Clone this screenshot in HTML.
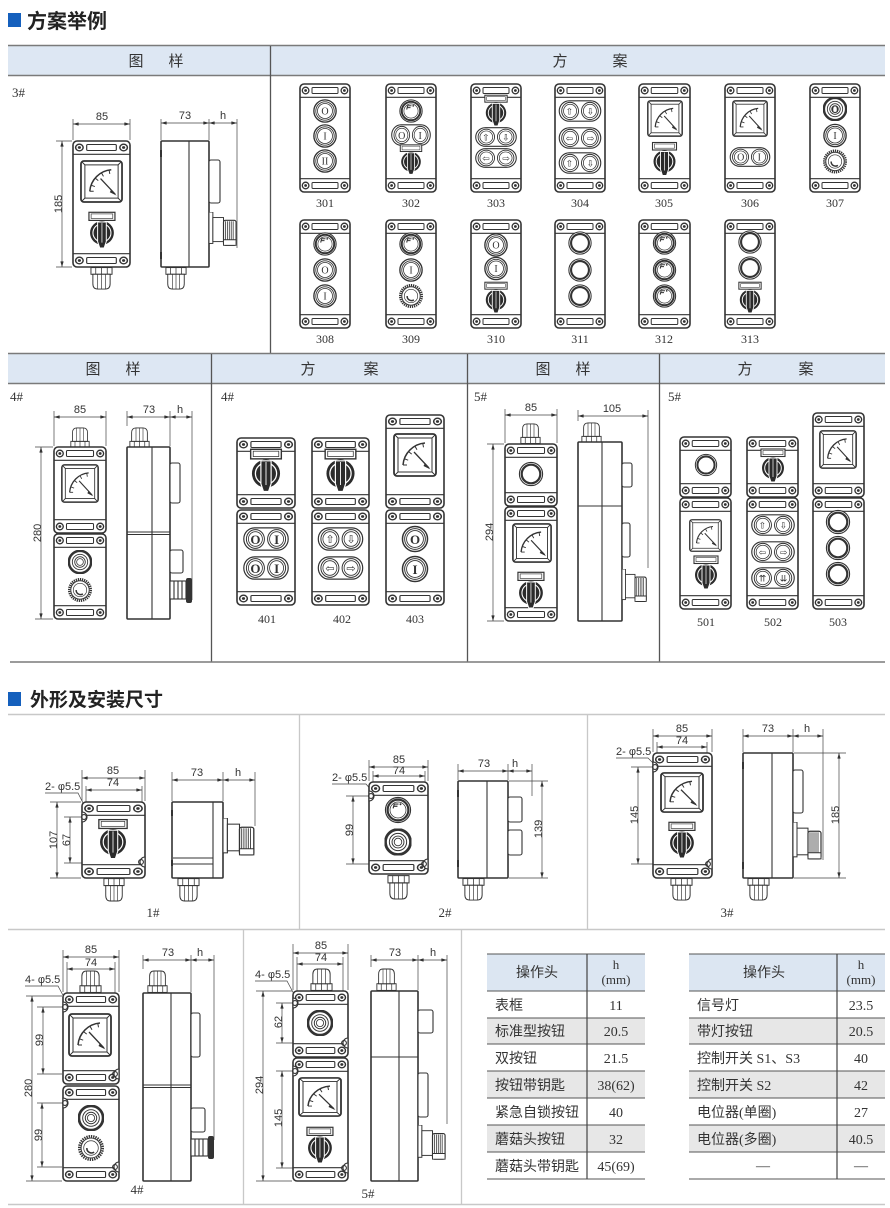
<!DOCTYPE html>
<html><head><meta charset="utf-8">
<style>
html,body{margin:0;padding:0;background:#fff;}
svg{display:block;}
.f{fill:#fff;stroke:#333;stroke-width:1.6}
.l{fill:none;stroke:#333;stroke-width:1.1}
.w{fill:#fff;stroke:#333;stroke-width:1.1}
.dm{fill:none;stroke:#444;stroke-width:0.7}
.da{fill:none;stroke:#444;stroke-width:0.7;marker-start:url(#ar);marker-end:url(#ar)}
.ds{font-family:"Liberation Sans",sans-serif;font-size:11px;fill:#333;text-anchor:middle}
.sr{font-family:"Liberation Serif",serif;fill:#333;text-anchor:middle}
.bt{font-family:"Liberation Serif",serif;fill:#333;text-anchor:middle;font-size:10px}
.ab{font-family:"DejaVu Sans",sans-serif;fill:#333;text-anchor:middle;font-size:9px}
.cj{font-family:"Liberation Sans","Noto Sans CJK SC",sans-serif;fill:#333}
.hd{font-family:"Liberation Sans","Noto Sans CJK SC",sans-serif;fill:#333;font-size:15px;text-anchor:middle}
.tb{font-family:"Liberation Serif","Noto Sans CJK SC",sans-serif;fill:#333;font-size:14px}
</style></head><body>
<svg width="890" height="1208" viewBox="0 0 890 1208" xmlns="http://www.w3.org/2000/svg">
<defs>
<marker id="ar" viewBox="0 0 10 6" refX="10" refY="3" markerWidth="6" markerHeight="3.4" markerUnits="userSpaceOnUse" orient="auto-start-reverse"><path d="M0 0L10 3L0 6z" fill="#333"/></marker>
<symbol id="bT" viewBox="0 0 50 14" preserveAspectRatio="none">
<circle cx="5.6" cy="6.5" r="3.3" fill="#fff" stroke="#333" stroke-width="1.3"/><circle cx="5.6" cy="6.5" r="1.4" fill="#333"/>
<circle cx="44.4" cy="6.5" r="3.3" fill="#fff" stroke="#333" stroke-width="1.3"/><circle cx="44.4" cy="6.5" r="1.4" fill="#333"/>
<rect x="12" y="3.5" width="26" height="6" rx="1" fill="#fff" stroke="#333" stroke-width="1"/>
<line x1="0" y1="13.3" x2="50" y2="13.3" stroke="#333" stroke-width="1.1"/>
</symbol>
<symbol id="bB" viewBox="0 0 50 14" preserveAspectRatio="none">
<line x1="0" y1="0.7" x2="50" y2="0.7" stroke="#333" stroke-width="1.1"/>
<circle cx="5.6" cy="7.5" r="3.3" fill="#fff" stroke="#333" stroke-width="1.3"/><circle cx="5.6" cy="7.5" r="1.4" fill="#333"/>
<circle cx="44.4" cy="7.5" r="3.3" fill="#fff" stroke="#333" stroke-width="1.3"/><circle cx="44.4" cy="7.5" r="1.4" fill="#333"/>
<rect x="12" y="4.5" width="26" height="6" rx="1" fill="#fff" stroke="#333" stroke-width="1"/>
</symbol>
<symbol id="btn" viewBox="-12.5 -12.5 25 25">
<circle r="11.6" fill="#fff" stroke="#333" stroke-width="1.4"/>
<circle r="9.6" fill="none" stroke="#333" stroke-width="0.9"/>
<circle r="7.8" fill="none" stroke="#333" stroke-width="0.8"/>
</symbol>
<symbol id="pbtn" viewBox="-12.5 -12.5 25 25">
<circle r="11.6" fill="#fff" stroke="#333" stroke-width="1.1"/>
<circle r="9.6" fill="none" stroke="#333" stroke-width="2"/>
<circle r="7.4" fill="none" stroke="#333" stroke-width="0.7"/>
<path d="M-4.5 -1.5L-3.5 -5.5H0.5M-4 -3.5H-0.5" stroke="#333" stroke-width="1.1" fill="none"/>
<circle cx="2.3" cy="-5.3" r="0.9" fill="#333"/>
</symbol>
<symbol id="ring" viewBox="-12.5 -12.5 25 25">
<circle r="11.6" fill="#fff" stroke="#333" stroke-width="1.1"/>
<circle r="9.3" fill="none" stroke="#333" stroke-width="2.2"/>
</symbol>
<symbol id="ring2" viewBox="-12.5 -12.5 25 25">
<circle r="11.6" fill="#fff" stroke="#333" stroke-width="2.6"/>
<circle r="8" fill="none" stroke="#333" stroke-width="0.9"/>
<circle r="5.5" fill="none" stroke="#333" stroke-width="0.9"/>
<circle r="3.5" fill="none" stroke="#333" stroke-width="0.8"/>
</symbol>
<symbol id="dbtn" viewBox="-23 -11.5 46 23" preserveAspectRatio="none">
<rect x="-22.2" y="-10.7" width="44.4" height="21.4" rx="10.7" fill="#fff" stroke="#333" stroke-width="1.2"/>
<circle cx="-10.6" r="9" fill="none" stroke="#333" stroke-width="1"/>
<circle cx="-10.6" r="7" fill="none" stroke="#333" stroke-width="0.8"/>
<circle cx="10.6" r="9" fill="none" stroke="#333" stroke-width="1"/>
<circle cx="10.6" r="7" fill="none" stroke="#333" stroke-width="0.8"/>
</symbol>
<symbol id="sel" viewBox="-14 -20 28 36">
<rect x="-12" y="-19" width="24" height="7.5" fill="#fff" stroke="#333" stroke-width="1.1"/>
<rect x="-10" y="-17.5" width="20" height="4.2" fill="none" stroke="#333" stroke-width="0.6"/>
<circle r="11" fill="#2b2b2b"/>
<circle r="8.3" fill="none" stroke="#fff" stroke-width="1"/>
<path d="M-4 -10H4V8L2 14H-2L-4 8Z" fill="#2b2b2b" stroke="#fff" stroke-width="0.9"/>
<line x1="0" y1="-9" x2="0" y2="9" stroke="#fff" stroke-width="0.7"/>
</symbol>
<symbol id="meter" viewBox="0 0 44 44" preserveAspectRatio="none">
<rect x="1" y="1" width="42" height="42" rx="3" fill="#fff" stroke="#333" stroke-width="1.8"/>
<rect x="5" y="5" width="34" height="34" fill="none" stroke="#333" stroke-width="1"/>
<path d="M1.8 1.8L5 5M42.2 1.8L39 5M1.8 42.2L5 39M42.2 42.2L39 39" stroke="#333" stroke-width="1"/>
<path d="M10 32A24 24 0 0 1 32 10" fill="none" stroke="#333" stroke-width="1.5"/>
<path d="M11.4 25.8L15.2 27.2M15.6 18.6L18.7 21.1M22 13.2L24 16.7M29.8 10.4L30.5 14.3M10 32L14 32" stroke="#333" stroke-width="1"/>
<path d="M21 19L36 35" stroke="#333" stroke-width="1.3"/>
<path d="M32 30L37.5 36.5L30.5 33Z" fill="#333"/>
</symbol>
<symbol id="mush" viewBox="-12.5 -12.5 25 25">
<circle r="11.3" fill="#fff" stroke="#333" stroke-width="2.4" stroke-dasharray="1.3 0.9"/>
<circle r="9.6" fill="none" stroke="#333" stroke-width="1"/>
<circle r="7" fill="none" stroke="#333" stroke-width="0.7"/>
<path d="M-4 0A4.5 4.5 0 0 0 3 4" stroke="#333" stroke-width="1.5" fill="none"/>
</symbol>
<symbol id="gland" viewBox="0 0 24 24" preserveAspectRatio="none">
<rect x="1" y="0.6" width="22" height="7" fill="#fff" stroke="#333" stroke-width="1"/>
<path d="M6 0.6v7M12 0.6v7M18 0.6v7" stroke="#333" stroke-width="0.8"/>
<path d="M3 7.6H21V17.5Q21 23 16 23H8Q3 23 3 17.5Z" fill="#fff" stroke="#333" stroke-width="1"/>
<path d="M8 7.6V23M12 7.6V23M16 7.6V23" stroke="#333" stroke-width="0.7"/>
</symbol>
<symbol id="glandU" viewBox="0 0 24 24" preserveAspectRatio="none">
<g transform="matrix(1 0 0 -1 0 24)">
<rect x="1" y="0.6" width="22" height="7" fill="#fff" stroke="#333" stroke-width="1"/>
<path d="M6 0.6v7M12 0.6v7M18 0.6v7" stroke="#333" stroke-width="0.8"/>
<path d="M3 7.6H21V17.5Q21 23 16 23H8Q3 23 3 17.5Z" fill="#fff" stroke="#333" stroke-width="1"/>
<path d="M8 7.6V23M12 7.6V23M16 7.6V23" stroke="#333" stroke-width="0.7"/>
</g>
</symbol>
<symbol id="sside" viewBox="0 0 30 40" preserveAspectRatio="none">
<rect x="0" y="0" width="4" height="34" fill="#fff" stroke="#333" stroke-width="1"/>
<rect x="4" y="6" width="11" height="26" fill="#fff" stroke="#333" stroke-width="1"/>
<rect x="15" y="9" width="13" height="27" rx="2" fill="#fff" stroke="#333" stroke-width="1.2"/>
<path d="M17 10V35M19 10V35M21 10V35M23 10V35M25 10V35" stroke="#333" stroke-width="0.8"/>
<path d="M15 30H28V36H15Z" fill="#fff" stroke="#333" stroke-width="1"/>
</symbol>
</defs>

<!-- ===== Title 1 ===== -->
<rect x="8" y="13" width="13" height="14" fill="#1560bd"/>
<text x="27" y="28" class="cj" style="font-size:20px;font-weight:bold;fill:#222">方案举例</text>

<!-- header band 1 -->
<rect x="8" y="46" width="877" height="29" fill="#dde7f3"/>
<line x1="8" y1="45.5" x2="885" y2="45.5" stroke="#7a7a7a" stroke-width="1.6"/>
<line x1="8" y1="75.5" x2="885" y2="75.5" stroke="#7a7a7a" stroke-width="1.6"/>
<line x1="270.5" y1="46" x2="270.5" y2="353" stroke="#555" stroke-width="1.3"/>
<text x="136" y="66" class="hd">图</text><text x="176" y="66" class="hd">样</text>
<text x="560" y="66" class="hd">方</text><text x="620" y="66" class="hd">案</text>

<text x="12" y="97" class="sr" style="font-size:13px;text-anchor:start">3#</text>

<!-- 3# front -->
<path class="dm" d="M73 119V140M130 119V140M56 141H72M56 267H72"/>
<line class="da" x1="73" y1="124" x2="130" y2="124"/>
<text x="102" y="120" class="ds">85</text>
<line class="da" x1="62" y1="141" x2="62" y2="267"/>
<text class="ds" transform="translate(62,204) rotate(-90)">185</text>
<rect class="f" x="73" y="141" width="57" height="126" rx="4"/>
<use href="#bT" x="73" y="141" width="57" height="14"/>
<use href="#bB" x="73" y="253" width="57" height="14"/>
<use href="#meter" x="80" y="160" width="43" height="43"/>
<use href="#sel" x="86.7" y="211.2" width="30.5" height="39"/>
<use href="#gland" x="90" y="267" width="23" height="23"/>
<!-- 3# side -->
<path class="dm" d="M161 119V140M209 119V140M237 119V248"/>
<line class="da" x1="161" y1="123" x2="209" y2="123"/>
<line class="da" x1="209" y1="123" x2="237" y2="123"/>
<text x="185" y="119" class="ds">73</text><text x="223" y="119" class="ds">h</text>
<rect class="f" x="161" y="141" width="48" height="126" rx="1"/>
<line class="l" x1="189" y1="141" x2="189" y2="267"/>
<rect x="160" y="150" width="2" height="7" fill="#333"/><rect x="160" y="252" width="2" height="7" fill="#333"/>
<rect class="w" x="209" y="160" width="11" height="43" rx="2"/>
<use href="#sside" x="209" y="212" width="29" height="37"/>
<use href="#gland" x="165" y="267" width="22" height="23"/>

<!-- scheme row 1 -->
<g>
<rect class="f" x="300" y="84" width="50" height="108" rx="4"/><use href="#bT" x="300" y="84" width="50" height="14"/><use href="#bB" x="300" y="178" width="50" height="14"/>
<use href="#btn" x="313" y="99" width="24" height="24"/><text x="325" y="114.5" class="bt">O</text>
<use href="#btn" x="313" y="124" width="24" height="24"/><text x="325" y="139.5" class="bt">I</text>
<use href="#btn" x="313" y="149" width="24" height="24"/><text x="325" y="164.5" class="bt">II</text>

<rect class="f" x="386" y="84" width="50" height="108" rx="4"/><use href="#bT" x="386" y="84" width="50" height="14"/><use href="#bB" x="386" y="178" width="50" height="14"/>
<use href="#pbtn" x="399" y="99" width="24" height="24"/>
<use href="#dbtn" x="391" y="124" width="40" height="22"/><text x="401.8" y="139" class="bt">O</text><text x="420.2" y="139" class="bt">I</text>
<use href="#sel" x="398.5" y="143" width="25" height="34"/>

<rect class="f" x="471" y="84" width="50" height="108" rx="4"/><use href="#bT" x="471" y="84" width="50" height="14"/><use href="#bB" x="471" y="178" width="50" height="14"/>
<use href="#sel" x="483" y="94" width="26" height="34"/>
<use href="#dbtn" x="475" y="127" width="42" height="20"/><text x="486" y="140.5" class="ab">⇧</text><text x="506" y="140.5" class="ab">⇩</text>
<use href="#dbtn" x="475" y="148" width="42" height="20"/><text x="486" y="161.5" class="ab">⇦</text><text x="506" y="161.5" class="ab">⇨</text>

<rect class="f" x="555" y="84" width="50" height="108" rx="4"/><use href="#bT" x="555" y="84" width="50" height="14"/><use href="#bB" x="555" y="178" width="50" height="14"/>
<use href="#dbtn" x="558.5" y="100" width="43" height="22"/><text x="569.5" y="114.5" class="ab">⇧</text><text x="590.5" y="114.5" class="ab">⇩</text>
<use href="#dbtn" x="558.5" y="127" width="43" height="22"/><text x="569.5" y="141.5" class="ab">⇦</text><text x="590.5" y="141.5" class="ab">⇨</text>
<use href="#dbtn" x="558.5" y="152" width="43" height="22"/><text x="569.5" y="166.5" class="ab">⇧</text><text x="590.5" y="166.5" class="ab">⇩</text>

<rect class="f" x="639" y="84" width="51" height="108" rx="4"/><use href="#bT" x="639" y="84" width="51" height="14"/><use href="#bB" x="639" y="178" width="51" height="14"/>
<use href="#meter" x="647" y="100" width="36" height="37"/>
<use href="#sel" x="650.5" y="141" width="28" height="37"/>

<rect class="f" x="725" y="84" width="50" height="108" rx="4"/><use href="#bT" x="725" y="84" width="50" height="14"/><use href="#bB" x="725" y="178" width="50" height="14"/>
<use href="#meter" x="732" y="100" width="36" height="37"/>
<use href="#dbtn" x="729.5" y="147" width="41" height="20"/><text x="740.7" y="160.5" class="bt">O</text><text x="759.3" y="160.5" class="bt">I</text>

<rect class="f" x="810" y="84" width="50" height="108" rx="4"/><use href="#bT" x="810" y="84" width="50" height="14"/><use href="#bB" x="810" y="178" width="50" height="14"/>
<use href="#ring2" x="823" y="97" width="24" height="24"/><text x="835" y="113" class="bt" style="font-weight:bold">O</text>
<use href="#btn" x="823" y="123.5" width="24" height="24"/><text x="835" y="139" class="bt">I</text>
<use href="#mush" x="823" y="149.5" width="24" height="24"/>
</g>
<g class="sr" style="font-size:12px">
<text x="325" y="207">301</text><text x="411" y="207">302</text><text x="496" y="207">303</text><text x="580" y="207">304</text><text x="664" y="207">305</text><text x="750" y="207">306</text><text x="835" y="207">307</text>
</g>

<!-- scheme row 2 -->
<g>
<rect class="f" x="300" y="220" width="50" height="108" rx="4"/><use href="#bT" x="300" y="220" width="50" height="14"/><use href="#bB" x="300" y="314" width="50" height="14"/>
<use href="#pbtn" x="313" y="232" width="24" height="24"/>
<use href="#btn" x="313" y="258" width="24" height="24"/><text x="325" y="273.5" class="bt">O</text>
<use href="#btn" x="313" y="284" width="24" height="24"/><text x="325" y="299.5" class="bt">I</text>

<rect class="f" x="386" y="220" width="50" height="108" rx="4"/><use href="#bT" x="386" y="220" width="50" height="14"/><use href="#bB" x="386" y="314" width="50" height="14"/>
<use href="#pbtn" x="399" y="232" width="24" height="24"/>
<use href="#btn" x="399" y="258" width="24" height="24"/><text x="411" y="273.5" class="bt">I</text>
<use href="#mush" x="399" y="284" width="24" height="24"/>

<rect class="f" x="471" y="220" width="50" height="108" rx="4"/><use href="#bT" x="471" y="220" width="50" height="14"/><use href="#bB" x="471" y="314" width="50" height="14"/>
<use href="#btn" x="484" y="233" width="24" height="24"/><text x="496" y="248.5" class="bt">O</text>
<use href="#btn" x="484" y="256.5" width="24" height="24"/><text x="496" y="272" class="bt">I</text>
<use href="#sel" x="483" y="281" width="26" height="34"/>

<rect class="f" x="555" y="220" width="50" height="108" rx="4"/><use href="#bT" x="555" y="220" width="50" height="14"/><use href="#bB" x="555" y="314" width="50" height="14"/>
<use href="#ring" x="568" y="231" width="24" height="24"/>
<use href="#ring" x="568" y="258" width="24" height="24"/>
<use href="#ring" x="568" y="284" width="24" height="24"/>

<rect class="f" x="639" y="220" width="51" height="108" rx="4"/><use href="#bT" x="639" y="220" width="51" height="14"/><use href="#bB" x="639" y="314" width="51" height="14"/>
<use href="#pbtn" x="652.5" y="231" width="24" height="24"/>
<use href="#pbtn" x="652.5" y="258" width="24" height="24"/>
<use href="#pbtn" x="652.5" y="284" width="24" height="24"/>

<rect class="f" x="725" y="220" width="50" height="108" rx="4"/><use href="#bT" x="725" y="220" width="50" height="14"/><use href="#bB" x="725" y="314" width="50" height="14"/>
<use href="#ring" x="738" y="230" width="24" height="24"/>
<use href="#ring" x="738" y="256" width="24" height="24"/>
<use href="#sel" x="737" y="281" width="26" height="34"/>
</g>
<g class="sr" style="font-size:12px">
<text x="325" y="343">308</text><text x="411" y="343">309</text><text x="496" y="343">310</text><text x="580" y="343">311</text><text x="664" y="343">312</text><text x="750" y="343">313</text>
</g>

<!-- header band 2 -->
<rect x="8" y="354" width="877" height="29" fill="#dde7f3"/>
<line x1="8" y1="353.5" x2="885" y2="353.5" stroke="#7a7a7a" stroke-width="1.6"/>
<line x1="8" y1="383.5" x2="885" y2="383.5" stroke="#7a7a7a" stroke-width="1.6"/>
<line x1="211.5" y1="354" x2="211.5" y2="662" stroke="#555" stroke-width="1.3"/>
<line x1="467.5" y1="354" x2="467.5" y2="662" stroke="#555" stroke-width="1.3"/>
<line x1="659.5" y1="354" x2="659.5" y2="662" stroke="#555" stroke-width="1.3"/>
<line x1="10" y1="662" x2="885" y2="662" stroke="#7a7a7a" stroke-width="1.6"/>
<text x="93" y="374" class="hd">图</text><text x="133" y="374" class="hd">样</text>
<text x="308" y="374" class="hd">方</text><text x="371" y="374" class="hd">案</text>
<text x="543" y="374" class="hd">图</text><text x="583" y="374" class="hd">样</text>
<text x="745" y="374" class="hd">方</text><text x="806" y="374" class="hd">案</text>

<g class="sr" style="font-size:13px;text-anchor:start">
<text x="10" y="401">4#</text><text x="221" y="401">4#</text><text x="474" y="401">5#</text><text x="668" y="401">5#</text>
</g>

<!-- 4# front -->
<path class="dm" d="M54 411V446M106 411V446M35 447H53M35 619H53"/>
<line class="da" x1="54" y1="417" x2="106" y2="417"/>
<text x="80" y="413" class="ds">85</text>
<line class="da" x1="41" y1="447" x2="41" y2="619"/>
<text class="ds" transform="translate(41,533) rotate(-90)">280</text>
<use href="#glandU" x="70" y="427" width="20" height="21"/>
<rect class="f" x="54" y="447" width="52" height="86" rx="4"/>
<use href="#bT" x="54" y="447" width="52" height="14"/><use href="#bB" x="54" y="519" width="52" height="14"/>
<use href="#meter" x="61" y="464" width="38" height="39"/>
<rect class="f" x="54" y="534" width="52" height="85" rx="4"/>
<use href="#bT" x="54" y="534" width="52" height="14"/><use href="#bB" x="54" y="605" width="52" height="14"/>
<use href="#ring2" x="68" y="550" width="24" height="24"/>
<use href="#mush" x="68" y="578" width="24" height="24"/>
<!-- 4# side -->
<path class="dm" d="M127 411V426M170 411V446M192 411V600"/>
<line class="da" x1="127" y1="417" x2="170" y2="417"/>
<line class="da" x1="170" y1="417" x2="192" y2="417"/>
<text x="149" y="413" class="ds">73</text><text x="180" y="413" class="ds">h</text>
<use href="#glandU" x="129" y="427" width="21" height="21"/>
<rect class="f" x="127" y="447" width="43" height="172" rx="1"/>
<line class="l" x1="152" y1="447" x2="152" y2="619"/>
<path class="l" d="M127 532H170M127 534.5H170"/>
<rect class="w" x="170" y="463" width="10" height="40" rx="2"/>
<rect class="w" x="170" y="550" width="13" height="23" rx="2"/>
<rect class="w" x="170" y="581" width="16" height="18"/>
<path class="l" d="M174 581V599M178 581V599M182 581V599"/>
<rect x="186" y="578" width="6" height="25" rx="2" fill="#333"/>

<!-- 4# schemes -->
<rect class="f" x="237" y="438" width="58" height="70" rx="4"/><use href="#bT" x="237" y="438" width="58" height="14"/><use href="#bB" x="237" y="494" width="58" height="14"/>
<use href="#sel" x="248" y="448" width="36" height="46"/>
<rect class="f" x="237" y="510" width="58" height="95" rx="4"/><use href="#bT" x="237" y="510" width="58" height="14"/><use href="#bB" x="237" y="591" width="58" height="14"/>
<use href="#dbtn" x="243" y="527" width="46" height="24"/><text x="255.4" y="544" class="sr" style="font-size:13px;font-weight:bold">O</text><text x="276.6" y="544" class="sr" style="font-size:13px;font-weight:bold">I</text>
<use href="#dbtn" x="243" y="556" width="46" height="24"/><text x="255.4" y="573" class="sr" style="font-size:13px;font-weight:bold">O</text><text x="276.6" y="573" class="sr" style="font-size:13px;font-weight:bold">I</text>

<rect class="f" x="312" y="438" width="57" height="70" rx="4"/><use href="#bT" x="312" y="438" width="57" height="14"/><use href="#bB" x="312" y="494" width="57" height="14"/>
<use href="#sel" x="322.5" y="448" width="36" height="46"/>
<rect class="f" x="312" y="510" width="57" height="95" rx="4"/><use href="#bT" x="312" y="510" width="57" height="14"/><use href="#bB" x="312" y="591" width="57" height="14"/>
<use href="#dbtn" x="317.5" y="527" width="46" height="24"/><text x="330" y="543" class="ab" style="font-size:11px">⇧</text><text x="351" y="543" class="ab" style="font-size:11px">⇩</text>
<use href="#dbtn" x="317.5" y="556" width="46" height="24"/><text x="330" y="572" class="ab" style="font-size:11px">⇦</text><text x="351" y="572" class="ab" style="font-size:11px">⇨</text>

<rect class="f" x="386" y="415" width="58" height="93" rx="4"/><use href="#bT" x="386" y="415" width="58" height="14"/><use href="#bB" x="386" y="494" width="58" height="14"/>
<use href="#meter" x="393" y="433" width="44" height="44"/>
<rect class="f" x="386" y="510" width="58" height="95" rx="4"/><use href="#bT" x="386" y="510" width="58" height="14"/><use href="#bB" x="386" y="591" width="58" height="14"/>
<use href="#btn" x="401.5" y="525.5" width="27" height="27"/><text x="415" y="544" class="sr" style="font-size:13px;font-weight:bold">O</text>
<use href="#btn" x="401.5" y="555.5" width="27" height="27"/><text x="415" y="574" class="sr" style="font-size:13px;font-weight:bold">I</text>
<g class="sr" style="font-size:12px"><text x="267" y="623">401</text><text x="342" y="623">402</text><text x="415" y="623">403</text></g>

<!-- 5# front -->
<path class="dm" d="M505 409V443M557 409V443M487 444H504M487 621H504"/>
<line class="da" x1="505" y1="415" x2="557" y2="415"/>
<text x="531" y="411" class="ds">85</text>
<line class="da" x1="493" y1="444" x2="493" y2="621"/>
<text class="ds" transform="translate(493,532) rotate(-90)">294</text>
<use href="#glandU" x="520" y="423" width="21" height="21"/>
<rect class="f" x="505" y="444" width="52" height="62" rx="4"/>
<use href="#bT" x="505" y="444" width="52" height="14"/><use href="#bB" x="505" y="492" width="52" height="14"/>
<use href="#ring" x="518.5" y="461.5" width="25" height="25"/>
<rect class="f" x="505" y="507" width="52" height="114" rx="4"/>
<use href="#bT" x="505" y="507" width="52" height="14"/><use href="#bB" x="505" y="607" width="52" height="14"/>
<use href="#meter" x="512" y="523" width="40" height="40"/>
<use href="#sel" x="515.7" y="571.2" width="30.5" height="39"/>
<!-- 5# side -->
<path class="dm" d="M578 410V421M648 410V568"/>
<line class="da" x1="578" y1="416" x2="648" y2="416"/>
<text x="612" y="412" class="ds">105</text>
<use href="#glandU" x="581" y="422" width="21" height="21"/>
<rect class="f" x="578" y="442" width="44" height="179" rx="1"/>
<line class="l" x1="602" y1="442" x2="602" y2="621"/>
<line class="l" x1="578" y1="506" x2="622" y2="506"/>
<rect class="w" x="622" y="463" width="10" height="24" rx="2"/>
<rect class="w" x="622" y="523" width="8" height="34" rx="2"/>
<use href="#sside" x="622" y="569" width="26" height="36"/>

<!-- 5# schemes -->
<rect class="f" x="680" y="437" width="51" height="60" rx="4"/><use href="#bT" x="680" y="437" width="51" height="14"/><use href="#bB" x="680" y="483" width="51" height="14"/>
<use href="#ring" x="694.5" y="453.5" width="23" height="23"/>
<rect class="f" x="680" y="498" width="51" height="111" rx="4"/><use href="#bT" x="680" y="498" width="51" height="14"/><use href="#bB" x="680" y="595" width="51" height="14"/>
<use href="#meter" x="689" y="519" width="33" height="33"/>
<use href="#sel" x="692" y="555" width="28" height="36"/>

<rect class="f" x="747" y="437" width="51" height="60" rx="4"/><use href="#bT" x="747" y="437" width="51" height="14"/><use href="#bB" x="747" y="483" width="51" height="14"/>
<use href="#sel" x="759" y="448" width="28" height="36"/>
<rect class="f" x="747" y="498" width="51" height="111" rx="4"/><use href="#bT" x="747" y="498" width="51" height="14"/><use href="#bB" x="747" y="595" width="51" height="14"/>
<use href="#dbtn" x="751" y="514" width="44" height="22"/><text x="762.5" y="528.5" class="ab">⇧</text><text x="783.5" y="528.5" class="ab">⇩</text>
<use href="#dbtn" x="751" y="541" width="44" height="22"/><text x="762.5" y="555.5" class="ab">⇦</text><text x="783.5" y="555.5" class="ab">⇨</text>
<use href="#dbtn" x="751" y="567" width="44" height="22"/><text x="762.5" y="581.5" class="ab">⇈</text><text x="783.5" y="581.5" class="ab">⇊</text>

<rect class="f" x="813" y="413" width="51" height="84" rx="4"/><use href="#bT" x="813" y="413" width="51" height="14"/><use href="#bB" x="813" y="483" width="51" height="14"/>
<use href="#meter" x="819" y="430" width="38" height="39"/>
<rect class="f" x="813" y="498" width="51" height="111" rx="4"/><use href="#bT" x="813" y="498" width="51" height="14"/><use href="#bB" x="813" y="595" width="51" height="14"/>
<use href="#ring" x="825.5" y="509.5" width="25" height="25"/>
<use href="#ring" x="825.5" y="535.5" width="25" height="25"/>
<use href="#ring" x="825.5" y="561.5" width="25" height="25"/>
<g class="sr" style="font-size:12px"><text x="706" y="626">501</text><text x="773" y="626">502</text><text x="838" y="626">503</text></g>

<!-- ===== Title 2 ===== -->
<rect x="8" y="692" width="13" height="14" fill="#1560bd"/>
<text x="30" y="706" class="cj" style="font-size:19px;font-weight:bold;fill:#222">外形及安装尺寸</text>
<line x1="8" y1="714.5" x2="885" y2="714.5" stroke="#c8c8c8" stroke-width="1.5"/>
<line x1="299.5" y1="714" x2="299.5" y2="929" stroke="#c8c8c8" stroke-width="1.3"/>
<line x1="587.5" y1="714" x2="587.5" y2="929" stroke="#c8c8c8" stroke-width="1.3"/>
<line x1="8" y1="929.5" x2="885" y2="929.5" stroke="#c8c8c8" stroke-width="1.5"/>
<line x1="243.5" y1="930" x2="243.5" y2="1205" stroke="#c8c8c8" stroke-width="1.3"/>
<line x1="461.5" y1="930" x2="461.5" y2="1205" stroke="#c8c8c8" stroke-width="1.3"/>
<line x1="8" y1="1204.5" x2="885" y2="1204.5" stroke="#c8c8c8" stroke-width="1.5"/>

<!-- 1# -->
<path class="dm" d="M82 770V801M145 770V801M86 786V810M142 786V810M50 802H81M64 817H82M50 878H81M64 863H84"/>
<line class="da" x1="82" y1="778" x2="145" y2="778"/><text x="113" y="774" class="ds">85</text>
<line class="da" x1="86" y1="790" x2="142" y2="790"/><text x="113" y="786" class="ds">74</text>
<text x="45" y="790" class="ds" style="text-anchor:start">2- φ5.5</text>
<path class="dm" d="M45 793H78L84 805"/>
<line class="da" x1="57" y1="802" x2="57" y2="878"/><text class="ds" transform="translate(57,840) rotate(-90)">107</text>
<line class="da" x1="70" y1="817" x2="70" y2="863"/><text class="ds" transform="translate(70,840) rotate(-90)">67</text>
<rect class="f" x="82" y="802" width="63" height="76" rx="4"/>
<use href="#bT" x="82" y="802" width="63" height="14"/><use href="#bB" x="82" y="864" width="63" height="14"/>
<path class="w" d="M82 812A5 5 0 0 1 82 822Z"/><circle class="l" cx="84" cy="817" r="2.4"/>
<path class="w" d="M145 857A5 5 0 0 0 145 867Z"/><circle class="l" cx="141" cy="862" r="2.4"/>
<use href="#sel" x="96.5" y="818.4" width="33" height="42.5"/>
<use href="#gland" x="103" y="878" width="22" height="24"/>
<path class="dm" d="M172 772V801M223 772V801M255 772V826"/>
<line class="da" x1="172" y1="780" x2="223" y2="780"/><line class="da" x1="223" y1="780" x2="255" y2="780"/>
<text x="197" y="776" class="ds">73</text><text x="238" y="776" class="ds">h</text>
<rect class="f" x="172" y="802" width="51" height="76" rx="1"/>
<line class="l" x1="213" y1="802" x2="213" y2="878"/>
<path class="l" d="M173 858H213M173 864H213"/>
<rect x="171" y="810" width="2" height="6" fill="#333"/><rect x="171" y="860" width="2" height="6" fill="#333"/>
<use href="#sside" x="223" y="818" width="33" height="41"/>
<use href="#gland" x="177" y="878" width="23" height="24"/>
<text x="153" y="917" class="sr" style="font-size:13px">1#</text>

<!-- 2# -->
<path class="dm" d="M369 760V781M428 760V781M373 771V786M425 771V786M346 796H372M346 864H370"/>
<line class="da" x1="369" y1="767" x2="428" y2="767"/><text x="399" y="763" class="ds">85</text>
<line class="da" x1="373" y1="776" x2="425" y2="776"/><text x="399" y="774" class="ds">74</text>
<text x="332" y="781" class="ds" style="text-anchor:start">2- φ5.5</text>
<path class="dm" d="M332 784H366L372 791"/>
<line class="da" x1="353" y1="796" x2="353" y2="864"/><text class="ds" transform="translate(353,830) rotate(-90)">99</text>
<rect class="f" x="369" y="782" width="59" height="92" rx="4"/>
<use href="#bT" x="369" y="782" width="59" height="14"/><use href="#bB" x="369" y="860" width="59" height="14"/>
<path class="w" d="M369 791A5 5 0 0 1 369 801Z"/><circle class="l" cx="371" cy="796" r="2.4"/>
<path class="w" d="M428 859A5 5 0 0 0 428 869Z"/><circle class="l" cx="424" cy="864" r="2.4"/>
<use href="#pbtn" x="384.5" y="796.5" width="27" height="27"/>
<use href="#ring2" x="384.5" y="828.5" width="27" height="27"/>
<use href="#gland" x="387" y="875" width="23" height="25"/>
<path class="dm" d="M458 764V780M508 764V780M532 764V796M509 781H548M509 878H548"/>
<line class="da" x1="458" y1="771" x2="508" y2="771"/><line class="da" x1="508" y1="771" x2="532" y2="771"/>
<text x="484" y="767" class="ds">73</text><text x="515" y="767" class="ds">h</text>
<line class="da" x1="542" y1="781" x2="542" y2="878"/><text class="ds" transform="translate(542,829) rotate(-90)">139</text>
<rect class="f" x="458" y="781" width="50" height="97" rx="1"/>
<line class="l" x1="487" y1="781" x2="487" y2="878"/>
<rect x="457" y="790" width="2" height="7" fill="#333"/><rect x="457" y="860" width="2" height="7" fill="#333"/>
<rect class="w" x="508" y="797" width="14" height="25" rx="2"/>
<rect class="w" x="508" y="830" width="14" height="25" rx="2"/>
<use href="#gland" x="462" y="878" width="23" height="23"/>
<text x="445" y="917" class="sr" style="font-size:13px">2#</text>

<!-- 3# -->
<path class="dm" d="M653 729V752M712 729V752M657 742V758M707 742V758M631 767H657M631 864H662"/>
<line class="da" x1="653" y1="736" x2="712" y2="736"/><text x="682" y="732" class="ds">85</text>
<line class="da" x1="657" y1="747" x2="707" y2="747"/><text x="682" y="744" class="ds">74</text>
<text x="616" y="755" class="ds" style="text-anchor:start">2- φ5.5</text>
<path class="dm" d="M616 758H648L655 765"/>
<line class="da" x1="638" y1="767" x2="638" y2="864"/><text class="ds" transform="translate(638,815) rotate(-90)">145</text>
<rect class="f" x="653" y="753" width="59" height="125" rx="4"/>
<use href="#bT" x="653" y="753" width="59" height="14"/><use href="#bB" x="653" y="864" width="59" height="14"/>
<path class="w" d="M653 762A5 5 0 0 1 653 772Z"/><circle class="l" cx="655" cy="767" r="2.4"/>
<path class="w" d="M712 859A5 5 0 0 0 712 869Z"/><circle class="l" cx="708" cy="864" r="2.4"/>
<use href="#meter" x="660" y="772" width="44" height="41"/>
<use href="#sel" x="666.7" y="821.2" width="30.5" height="39"/>
<use href="#gland" x="670" y="878" width="23" height="23"/>
<path class="dm" d="M743 729V752M793 729V752M823 729V860M794 753H846M794 878H846"/>
<line class="da" x1="743" y1="736" x2="793" y2="736"/><line class="da" x1="793" y1="736" x2="823" y2="736"/>
<text x="768" y="732" class="ds">73</text><text x="807" y="732" class="ds">h</text>
<line class="da" x1="839" y1="753" x2="839" y2="878"/><text class="ds" transform="translate(839,815) rotate(-90)">185</text>
<rect class="f" x="743" y="753" width="50" height="125" rx="1"/>
<line class="l" x1="772" y1="753" x2="772" y2="878"/>
<rect x="742" y="762" width="2" height="7" fill="#333"/><rect x="742" y="862" width="2" height="7" fill="#333"/>
<rect class="w" x="793" y="770" width="10" height="43" rx="2"/>
<use href="#sside" x="793" y="822" width="30" height="41"/>
<use href="#gland" x="747" y="878" width="23" height="23"/>
<text x="727" y="917" class="sr" style="font-size:13px">3#</text>

<!-- 4# bottom -->
<path class="dm" d="M63 950V992M119 950V992M67 962V1000M115 962V1000M26 996H62M37 1007H66M26 1181H62M37 1074H62M37 1103H66M37 1167H62"/>
<line class="da" x1="63" y1="957" x2="119" y2="957"/><text x="91" y="953" class="ds">85</text>
<line class="da" x1="67" y1="969" x2="115" y2="969"/><text x="91" y="966" class="ds">74</text>
<text x="25" y="983" class="ds" style="text-anchor:start">4- φ5.5</text>
<path class="dm" d="M25 986H58L65 999"/>
<line class="da" x1="32" y1="996" x2="32" y2="1181"/><text class="ds" transform="translate(32,1088) rotate(-90)">280</text>
<line class="da" x1="43" y1="1007" x2="43" y2="1074"/><text class="ds" transform="translate(43,1040) rotate(-90)">99</text>
<line class="da" x1="42" y1="1103" x2="42" y2="1167"/><text class="ds" transform="translate(42,1135) rotate(-90)">99</text>
<use href="#glandU" x="79" y="970" width="23" height="23"/>
<rect class="f" x="63" y="993" width="56" height="91" rx="4"/>
<use href="#bT" x="63" y="993" width="56" height="14"/><use href="#bB" x="63" y="1070" width="56" height="14"/>
<path class="w" d="M63 1002A5 5 0 0 1 63 1012Z"/><circle class="l" cx="65" cy="1007" r="2.4"/>
<path class="w" d="M119 1069A5 5 0 0 0 119 1079Z"/><circle class="l" cx="115" cy="1074" r="2.4"/>
<use href="#meter" x="68" y="1013" width="44" height="44"/>
<rect class="f" x="63" y="1086" width="56" height="95" rx="4"/>
<use href="#bT" x="63" y="1086" width="56" height="14"/><use href="#bB" x="63" y="1167" width="56" height="14"/>
<path class="w" d="M63 1098A5 5 0 0 1 63 1108Z"/><circle class="l" cx="65" cy="1103" r="2.4"/>
<path class="w" d="M119 1162A5 5 0 0 0 119 1172Z"/><circle class="l" cx="115" cy="1167" r="2.4"/>
<use href="#ring2" x="78" y="1105" width="26" height="26"/>
<use href="#mush" x="78" y="1135" width="26" height="26"/>
<path class="dm" d="M143 955V969M191 955V992M214 955V1140"/>
<line class="da" x1="143" y1="960" x2="191" y2="960"/><line class="da" x1="191" y1="960" x2="214" y2="960"/>
<text x="168" y="956" class="ds">73</text><text x="200" y="956" class="ds">h</text>
<use href="#glandU" x="147" y="970" width="21" height="23"/>
<rect class="f" x="143" y="993" width="48" height="188" rx="1"/>
<line class="l" x1="171" y1="993" x2="171" y2="1181"/>
<path class="l" d="M143 1085H191M143 1087.5H191"/>
<rect class="w" x="191" y="1013" width="9" height="44" rx="2"/>
<rect class="w" x="191" y="1108" width="14" height="24" rx="2"/>
<rect class="w" x="191" y="1139" width="17" height="17"/>
<path class="l" d="M195 1139V1156M199 1139V1156M203 1139V1156"/>
<rect x="208" y="1136" width="6" height="23" rx="2" fill="#333"/>
<text x="137" y="1194" class="sr" style="font-size:13px">4#</text>

<!-- 5# bottom -->
<path class="dm" d="M293 944V990M348 944V990M297 957V1000M343 957V1000M256 991H292M276 1003H296M276 1043H296M276 1071H296M276 1168H296M256 1181H292"/>
<line class="da" x1="293" y1="953" x2="348" y2="953"/><text x="321" y="949" class="ds">85</text>
<line class="da" x1="297" y1="964" x2="343" y2="964"/><text x="321" y="961" class="ds">74</text>
<text x="255" y="978" class="ds" style="text-anchor:start">4- φ5.5</text>
<path class="dm" d="M255 981H287L295 996"/>
<line class="da" x1="263" y1="991" x2="263" y2="1181"/><text class="ds" transform="translate(263,1085) rotate(-90)">294</text>
<line class="da" x1="282" y1="1003" x2="282" y2="1043"/><text class="ds" transform="translate(282,1022) rotate(-90)">62</text>
<line class="da" x1="282" y1="1071" x2="282" y2="1168"/><text class="ds" transform="translate(282,1118) rotate(-90)">145</text>
<use href="#glandU" x="310" y="968" width="23" height="23"/>
<rect class="f" x="293" y="991" width="55" height="66" rx="4"/>
<use href="#bT" x="293" y="991" width="55" height="14"/><use href="#bB" x="293" y="1043" width="55" height="14"/>
<path class="w" d="M293 998A5 5 0 0 1 293 1008Z"/><circle class="l" cx="295" cy="1003" r="2.4"/>
<path class="w" d="M348 1038A5 5 0 0 0 348 1048Z"/><circle class="l" cx="344" cy="1043" r="2.4"/>
<use href="#ring2" x="307" y="1010" width="26" height="26"/>
<rect class="f" x="293" y="1058" width="55" height="123" rx="4"/>
<use href="#bT" x="293" y="1058" width="55" height="14"/><use href="#bB" x="293" y="1167" width="55" height="14"/>
<path class="w" d="M293 1066A5 5 0 0 1 293 1076Z"/><circle class="l" cx="295" cy="1071" r="2.4"/>
<path class="w" d="M348 1163A5 5 0 0 0 348 1173Z"/><circle class="l" cx="344" cy="1168" r="2.4"/>
<use href="#meter" x="298" y="1077" width="44" height="40"/>
<use href="#sel" x="304.7" y="1126.2" width="30.5" height="39"/>
<path class="dm" d="M371 955V967M418 955V990M447 955V1124"/>
<line class="da" x1="371" y1="960" x2="418" y2="960"/><line class="da" x1="418" y1="960" x2="447" y2="960"/>
<text x="395" y="956" class="ds">73</text><text x="433" y="956" class="ds">h</text>
<use href="#glandU" x="376" y="968" width="21" height="23"/>
<rect class="f" x="371" y="991" width="47" height="190" rx="1"/>
<line class="l" x1="399" y1="991" x2="399" y2="1181"/>
<line class="l" x1="371" y1="1057" x2="418" y2="1057"/>
<rect class="w" x="418" y="1010" width="15" height="23" rx="2"/>
<rect class="w" x="418" y="1073" width="10" height="44" rx="2"/>
<use href="#sside" x="418" y="1125" width="29" height="38"/>
<text x="368" y="1198" class="sr" style="font-size:13px">5#</text>

<!-- ===== Tables ===== -->
<g>
<rect x="487" y="954" width="158" height="37" fill="#dce6f2"/>
<rect x="487" y="1018" width="158" height="26" fill="#e7e7e7"/>
<rect x="487" y="1071" width="158" height="27" fill="#e7e7e7"/>
<rect x="487" y="1125" width="158" height="27" fill="#e7e7e7"/>
<path d="M487 954H645M487 991H645M487 1018H645M487 1044H645M487 1071H645M487 1098H645M487 1125H645M487 1152H645M487 1179H645" stroke="#555" stroke-width="1.1" fill="none"/>
<line x1="587" y1="954" x2="587" y2="1179" stroke="#444" stroke-width="1.2"/>
<text x="537" y="977" class="cj" style="font-size:14px;text-anchor:middle">操作头</text>
<text x="616" y="969" class="sr" style="font-size:13px">h</text>
<text x="616" y="984" class="sr" style="font-size:13px">(mm)</text>
<g class="cj" style="font-size:14px">
<text x="495" y="1010">表框</text><text x="495" y="1036">标准型按钮</text><text x="495" y="1063">双按钮</text><text x="495" y="1090">按钮带钥匙</text><text x="495" y="1117">紧急自锁按钮</text><text x="495" y="1144">蘑菇头按钮</text><text x="495" y="1171">蘑菇头带钥匙</text>
</g>
<g class="sr" style="font-size:14px">
<text x="616" y="1010">11</text><text x="616" y="1036">20.5</text><text x="616" y="1063">21.5</text><text x="616" y="1090">38(62)</text><text x="616" y="1117">40</text><text x="616" y="1144">32</text><text x="616" y="1171">45(69)</text>
</g>

<rect x="689" y="954" width="196" height="37" fill="#dce6f2"/>
<rect x="689" y="1018" width="196" height="26" fill="#e7e7e7"/>
<rect x="689" y="1071" width="196" height="27" fill="#e7e7e7"/>
<rect x="689" y="1125" width="196" height="27" fill="#e7e7e7"/>
<path d="M689 954H885M689 991H885M689 1018H885M689 1044H885M689 1071H885M689 1098H885M689 1125H885M689 1152H885M689 1179H885" stroke="#555" stroke-width="1.1" fill="none"/>
<line x1="837" y1="954" x2="837" y2="1179" stroke="#444" stroke-width="1.2"/>
<text x="764" y="977" class="cj" style="font-size:14px;text-anchor:middle">操作头</text>
<text x="861" y="969" class="sr" style="font-size:13px">h</text>
<text x="861" y="984" class="sr" style="font-size:13px">(mm)</text>
<g class="tb">
<text x="697" y="1010">信号灯</text><text x="697" y="1036">带灯按钮</text><text x="697" y="1063">控制开关 S1、S3</text><text x="697" y="1090">控制开关 S2</text><text x="697" y="1117">电位器(单圈)</text><text x="697" y="1144">电位器(多圈)</text>
</g>
<text x="763" y="1170" class="sr" style="font-size:14px">—</text>
<g class="sr" style="font-size:14px">
<text x="861" y="1010">23.5</text><text x="861" y="1036">20.5</text><text x="861" y="1063">40</text><text x="861" y="1090">42</text><text x="861" y="1117">27</text><text x="861" y="1144">40.5</text><text x="861" y="1170">—</text>
</g>
</g>
</svg>
</body></html>
